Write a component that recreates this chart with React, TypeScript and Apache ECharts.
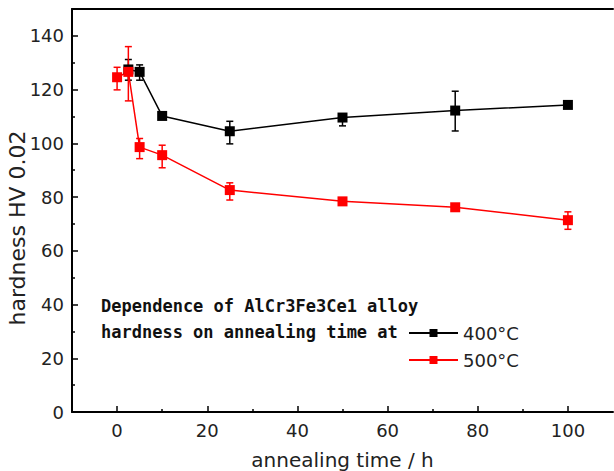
import React, { useEffect, useRef } from "react";
import * as echarts from "echarts";

// ---- data ----
const times400 = [2.5, 5, 10, 25, 50, 75, 100];
const hv400 = [127.5, 126.6, 110.2, 104.5, 109.6, 112.2, 114.3];
const hv400Low = [123.5, 123.5, 109.5, 99.8, 106.5, 104.6, 113.6];
const hv400High = [131.2, 129.2, 111.0, 108.2, 110.8, 119.4, 115.0];

const times500 = [0, 2.5, 5, 10, 25, 50, 75, 100];
const hv500 = [124.6, 126.6, 98.6, 95.6, 82.6, 78.4, 76.2, 71.4];
const hv500Low = [119.9, 115.8, 94.3, 90.9, 78.9, 77.8, 75.6, 68.0];
const hv500High = [128.3, 136.0, 101.8, 99.3, 85.3, 79.0, 76.8, 74.5];

const xMajorTicks = [0, 20, 40, 60, 80, 100];
const xMinorTicks = [10, 30, 50, 70, 90];
const yMajorTicks = [0, 20, 40, 60, 80, 100, 120, 140];
const yMinorTicks = [10, 30, 50, 70, 90, 110, 130];

const seriesNames = ["400°C", "500°C"];
const noteLines = [
  "Dependence of AlCr3Fe3Ce1 alloy",
  "hardness on annealing time at",
];

const BLACK = "#000000";
const RED = "#ff0000";
const FONT = "'DejaVu Sans', sans-serif";

function errorBars(color: string) {
  return (params: any, api: any) => {
    const x = api.value(0);
    const lo = api.value(1);
    const hi = api.value(2);
    const pLo = api.coord([x, lo]);
    const pHi = api.coord([x, hi]);
    const hw = 3.5;
    const st = { stroke: color, lineWidth: 1.5 };
    return {
      type: "group",
      children: [
        { type: "line", shape: { x1: pHi[0], y1: pHi[1], x2: pLo[0], y2: pLo[1] }, style: st },
        { type: "line", shape: { x1: pHi[0] - hw, y1: pHi[1], x2: pHi[0] + hw, y2: pHi[1] }, style: st },
        { type: "line", shape: { x1: pLo[0] - hw, y1: pLo[1], x2: pLo[0] + hw, y2: pLo[1] }, style: st },
      ],
    };
  };
}

export default function App() {
  const ref = useRef<HTMLDivElement>(null);
  useEffect(() => {
    document.body.style.margin = "0";
    if (!ref.current) return;
    const chart = echarts.init(ref.current, undefined, { renderer: "svg" });
    const grid = { left: 72, right: 1, top: 9, bottom: 59, outerBoundsMode: "none", containLabel: false };
    const axisLineStyle = { color: "#000", width: 2 };
    const option: any = {
      animation: false,
      backgroundColor: "#fff",
      grid,
      xAxis: [
        {
          type: "value",
          min: -10,
          max: 110,
          position: "bottom",
          axisLine: { show: true, lineStyle: axisLineStyle, onZero: false },
          axisTick: { show: true, inside: true, length: 6, customValues: xMajorTicks, lineStyle: { color: "#000", width: 1.5 } },
          axisLabel: { customValues: xMajorTicks, fontFamily: FONT, fontSize: 18, color: "#222", margin: 9 },
          splitLine: { show: false },
          name: "annealing time / h",
          nameLocation: "middle",
          nameGap: 38,
          nameTextStyle: { fontFamily: FONT, fontSize: 20, color: "#222" },
        },
        {
          type: "value",
          min: -10,
          max: 110,
          position: "bottom",
          axisLine: { show: false, onZero: false },
          axisTick: { show: true, inside: true, length: 3, customValues: xMinorTicks, lineStyle: { color: "#000", width: 1.5 } },
          axisLabel: { show: false },
          splitLine: { show: false },
        },
        {
          type: "value",
          min: -10,
          max: 110,
          position: "top",
          axisLine: { show: true, lineStyle: axisLineStyle, onZero: false },
          axisTick: { show: false },
          axisLabel: { show: false },
          splitLine: { show: false },
        },
      ],
      yAxis: [
        {
          type: "value",
          min: 0,
          max: 150,
          position: "left",
          axisLine: { show: true, lineStyle: axisLineStyle, onZero: false },
          axisTick: { show: true, inside: true, length: 6, customValues: yMajorTicks, lineStyle: { color: "#000", width: 1.5 } },
          axisLabel: { customValues: yMajorTicks, fontFamily: FONT, fontSize: 18, color: "#222", margin: 8 },
          splitLine: { show: false },
        },
        {
          type: "value",
          min: 0,
          max: 150,
          position: "left",
          axisLine: { show: false, onZero: false },
          axisTick: { show: true, inside: true, length: 3, customValues: yMinorTicks, lineStyle: { color: "#000", width: 1.5 } },
          axisLabel: { show: false },
          splitLine: { show: false },
        },
      ],
      legend: {
        orient: "vertical",
        left: 408,
        top: 323,
        padding: 0,
        itemWidth: 49,
        itemHeight: 10,
        itemGap: 7,
        textStyle: { fontFamily: FONT, fontSize: 18, color: "#222", lineHeight: 20 },
        data: seriesNames,
      },
      graphic: [
        ...noteLines.map((t, i) => ({
          type: "text",
          left: 101,
          top: 297 + i * 26,
          style: {
            text: t,
            font: "bold 17px 'DejaVu Sans Mono', monospace",
            fill: "#111",
          },
        })),
        {
          type: "text",
          x: 17,
          y: 228,
          rotation: Math.PI / 2,
          style: {
            text: "hardness HV 0.02",
            font: `22px ${FONT}`,
            fill: "#222",
            align: "center",
            verticalAlign: "middle",
          },
        },
      ],
      series: [
        {
          name: seriesNames[0],
          type: "line",
          data: times400.map((t, i) => [t, hv400[i]]),
          symbol: "rect",
          symbolSize: 10,
          lineStyle: { color: BLACK, width: 1.5 },
          itemStyle: { color: BLACK },
          z: 3,
        },
        {
          name: seriesNames[1],
          type: "line",
          data: times500.map((t, i) => [t, hv500[i]]),
          symbol: "rect",
          symbolSize: 10,
          lineStyle: { color: RED, width: 1.5 },
          itemStyle: { color: RED },
          z: 3,
        },
        {
          type: "custom",
          renderItem: errorBars(BLACK),
          data: times400.map((t, i) => [t, hv400Low[i], hv400High[i]]),
          encode: { x: 0, y: [1, 2] },
          z: 2,
        },
        {
          type: "custom",
          renderItem: errorBars(RED),
          data: times500.map((t, i) => [t, hv500Low[i], hv500High[i]]),
          encode: { x: 0, y: [1, 2] },
          z: 2,
        },
      ],
    };
    chart.setOption(option);
    return () => chart.dispose();
  }, []);
  return <div ref={ref} style={{ width: 614, height: 471 }} />;
}
